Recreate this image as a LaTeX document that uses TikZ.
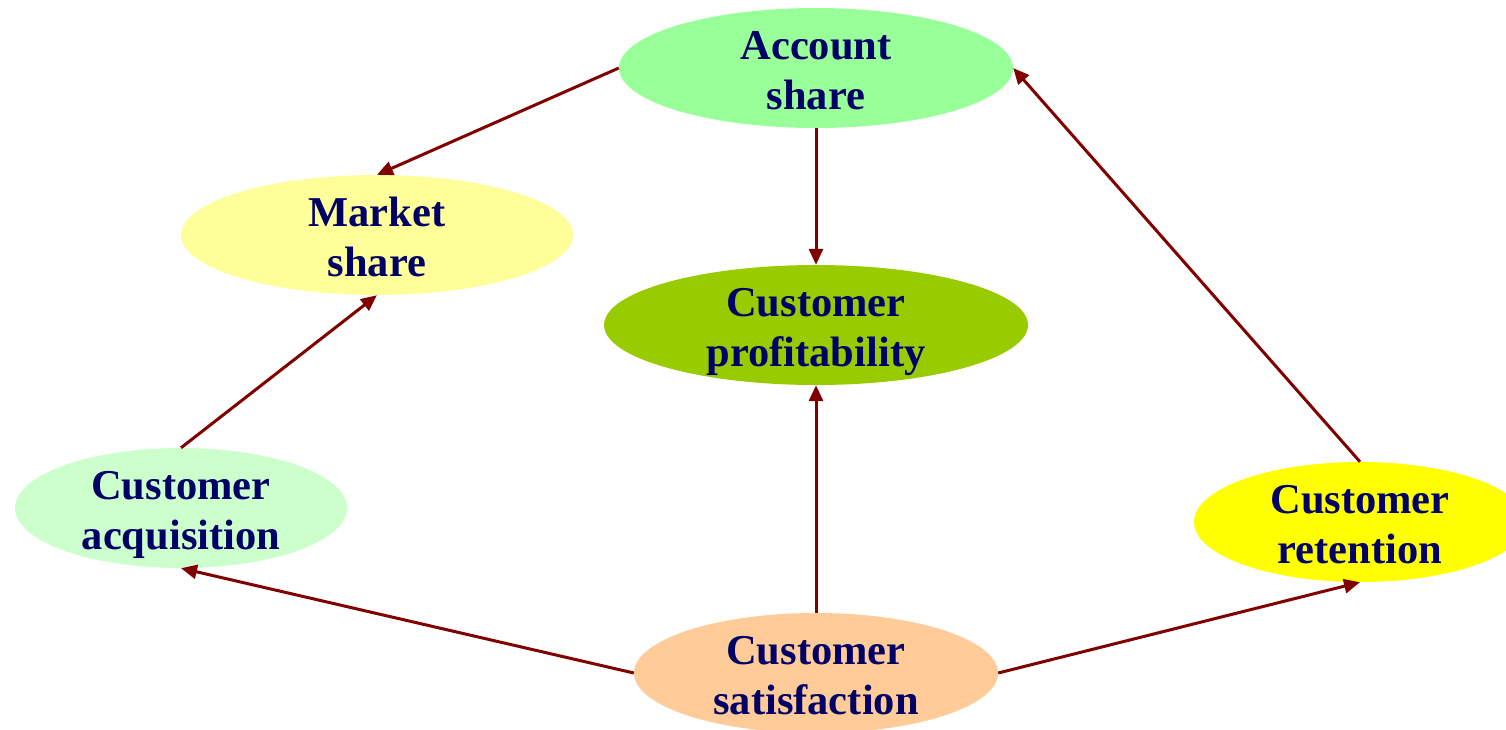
\documentclass[tikz,border=0pt]{standalone}
\usepackage{fontspec}
\setmainfont{Liberation Serif}
\usetikzlibrary{shapes.geometric,arrows.meta}
\definecolor{txtblue}{HTML}{000066}
\definecolor{arrred}{HTML}{800000}
\definecolor{cacc}{HTML}{99FF99}
\definecolor{cmkt}{HTML}{FFFF99}
\definecolor{cprof}{HTML}{99CC00}
\definecolor{cacq}{HTML}{CCFFCC}
\definecolor{cret}{HTML}{FFFF00}
\definecolor{csat}{HTML}{FFCC99}
\tikzset{
  oval/.style={ellipse, inner sep=0pt, minimum height=120pt, align=center,
    text height=82pt, text depth=0pt,
    text=txtblue, font=\bfseries\fontsize{42.5}{50}\selectfont},
  link/.style={draw=arrred, line width=3pt, -{Triangle[length=16pt,width=14pt]}}
}
\begin{document}
\begin{tikzpicture}[x=1pt,y=-1pt]
\useasboundingbox (0,0) rectangle (1506,729);
\clip (0,0) rectangle (1506,729);
\node[oval, fill=cacc, minimum width=394pt] (acc) at (816,68) {Account\\share};
\node[oval, fill=cmkt, minimum width=392pt] (mkt) at (377,235) {Market\\share};
\node[oval, fill=cprof, minimum width=424pt] (prof) at (816,325) {Customer\\profitability};
\node[oval, fill=cacq, minimum width=332pt] (acq) at (181,508) {Customer\\acquisition};
\node[oval, fill=cret, minimum width=332pt] (ret) at (1360,522) {Customer\\retention};
\node[oval, fill=csat, minimum width=364pt] (sat) at (816,673) {Customer\\satisfaction};
\draw[link] (acc.west) -- (mkt.north);
\draw[link] (acc.south) -- (prof.north);
\draw[link] (acq.north) -- (mkt.south);
\draw[link] (sat.north) -- (prof.south);
\draw[link] (sat.west) -- (acq.south);
\draw[link] (sat.east) -- (ret.south);
\draw[link] (ret.north) -- (acc.east);
\end{tikzpicture}
\end{document}
